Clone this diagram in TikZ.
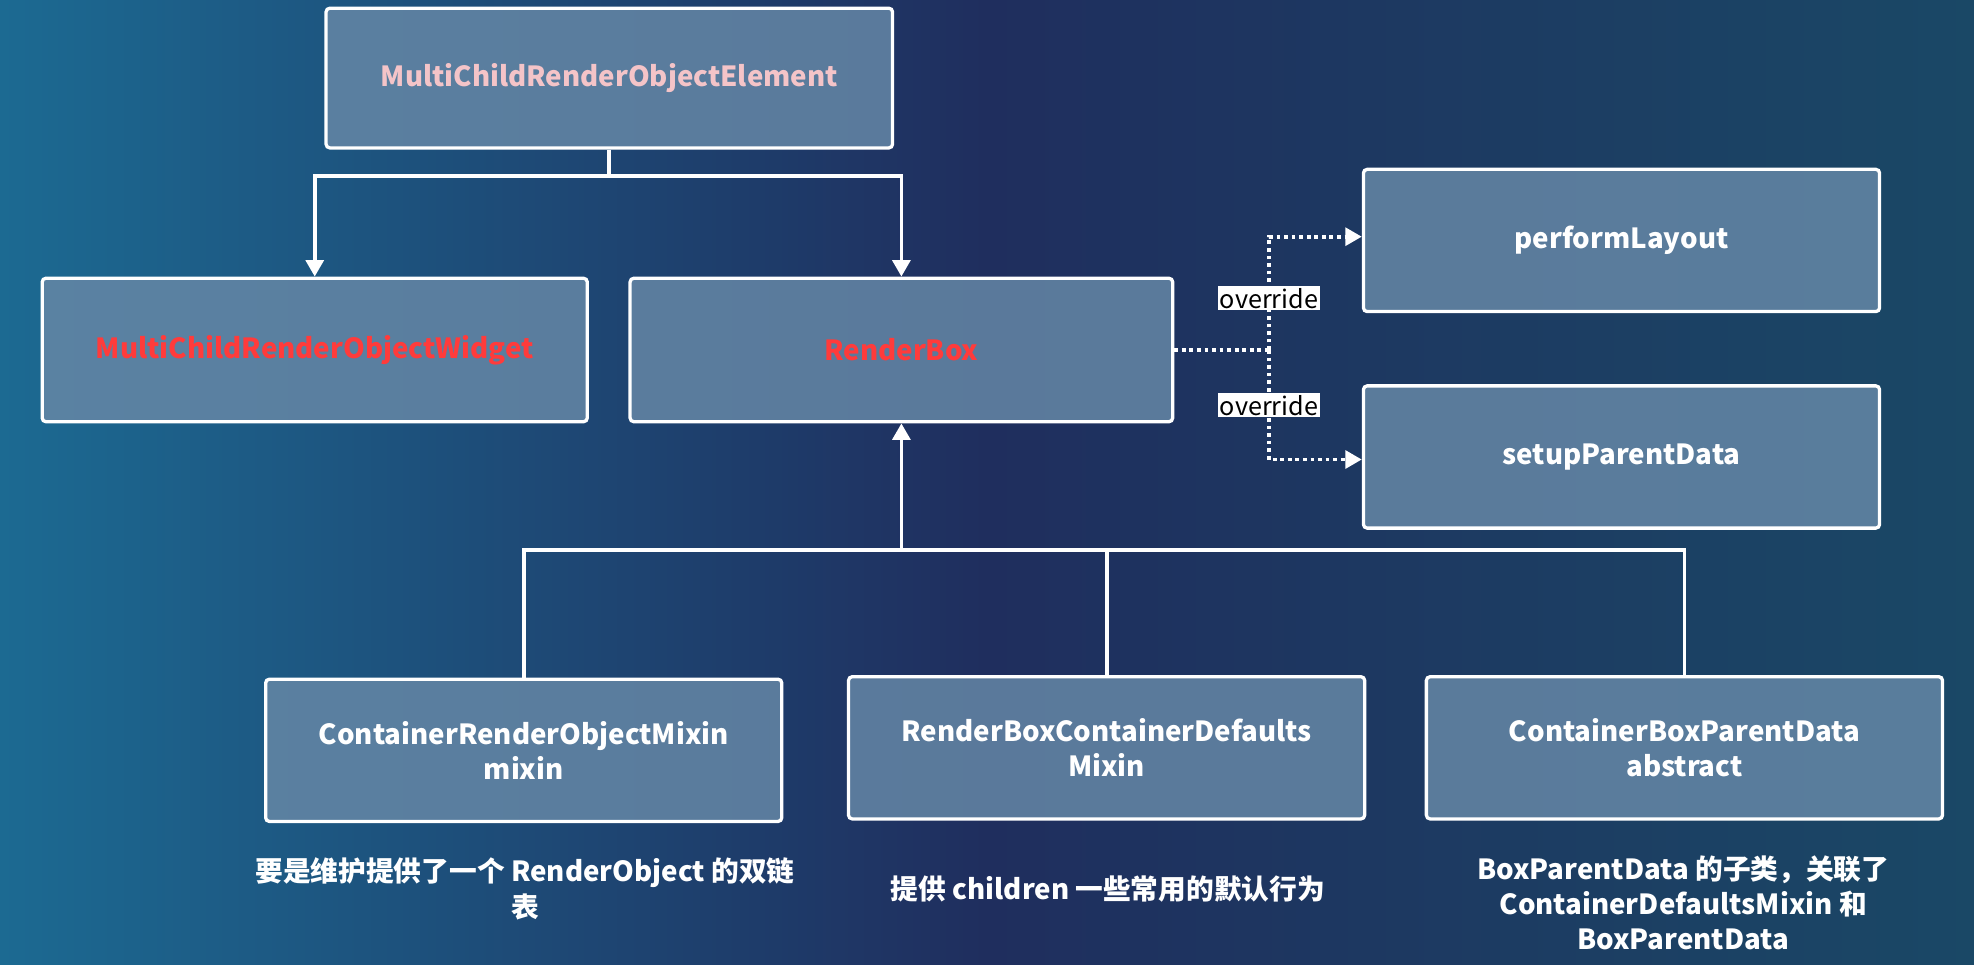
\documentclass[tikz,border=0pt]{standalone}
\usepackage{fontspec}
\setmainfont{Noto Sans CJK SC}
\usetikzlibrary{positioning}
\usetikzlibrary{arrows.meta}

\definecolor{bgleft}{HTML}{1C6A92}
\definecolor{bgmid}{HTML}{1F2E5E}
\definecolor{bgright}{HTML}{1A4866}
\definecolor{boxfill}{HTML}{6587A6}
\definecolor{pinktext}{HTML}{F4C4C8}
\definecolor{redtext}{HTML}{FF3B3B}

\tikzset{
	classbox/.style={draw=white,line width=2.6pt,rounded corners=3pt,fill=boxfill,fill opacity=0.85,text opacity=1,
		minimum width=410pt,minimum height=113pt,align=center,font=\bfseries\fontsize{22}{28}\selectfont,text=white},
	link/.style={white,line width=3pt},
	dotlink/.style={white,line width=3pt,dash pattern=on 3pt off 3pt},
	tag/.style={fill=white,text=black,inner sep=1.5pt,font=\fontsize{20}{22}\selectfont},
	note/.style={text=white,align=center,font=\bfseries\fontsize{22}{28}\selectfont}
}

\begin{document}
\begin{tikzpicture}[x=1pt,y=-1pt,>={Triangle[width=14pt,length=13pt]}]
	\shade[left color=bgleft,right color=bgright,middle color=bgmid] (0,0) rectangle (1568,766);
	\useasboundingbox (0,0) rectangle (1568,766);

	\node[classbox,minimum width=450pt,minimum height=111pt,text=pinktext] (element) at (484,62) {MultiChildRenderObjectElement};
	\node[classbox,minimum width=433pt,minimum height=114pt,text=redtext] (widget) at (250,278) {MultiChildRenderObjectWidget};
	\node[classbox,minimum width=431pt,minimum height=114pt,text=redtext] (renderbox) at (716,278) {RenderBox};
	\node[classbox] (layout) at (1288,191) {performLayout};
	\node[classbox] (setup) at (1288,363) {setupParentData};
	\node[classbox] (mixin) at (416,596) {ContainerRenderObjectMixin\\mixin};
	\node[classbox] (defaults) at (879,594) {RenderBoxContainerDefaults\\Mixin};
	\node[classbox] (parentdata) at (1338,594) {ContainerBoxParentData\\abstract};

	% inheritance from the element
	\draw[link] (element.south) -- (484,140) coordinate (split);
	\draw[link,->] (split) -| (widget.north);
	\draw[link,->] (split) -| (renderbox.north);

	% overrides
	\coordinate (hub) at (1008,278);
	\draw[dotlink] (renderbox.east) -- (hub);
	\draw[dotlink,->] (hub) |- (layout.west |- 0,188);
	\draw[dotlink,->] (hub) |- (setup.west |- 0,365);
	\node[tag] (tagone) at (1008,237) {override};
	\node[tag] (tagtwo) at (1008,322) {override};

	% mixins below
	\coordinate (bus) at (716,437);
	\draw[link,->] (bus) -- (renderbox.south);
	\draw[link] (mixin.north) |- (bus);
	\draw[link] (defaults.north) |- (bus);
	\draw[link] (parentdata.north) |- (bus);

	\node[note] (notea) at (417,706) {要是维护提供了一个 RenderObject 的双链\\表};
	\node[note] (noteb) at (880,706) {提供 children 一些常用的默认行为};
	\node[note] (notec) at (1337,717) {BoxParentData 的子类，关联了\\ContainerDefaultsMixin 和\\BoxParentData};
\end{tikzpicture}
\end{document}
